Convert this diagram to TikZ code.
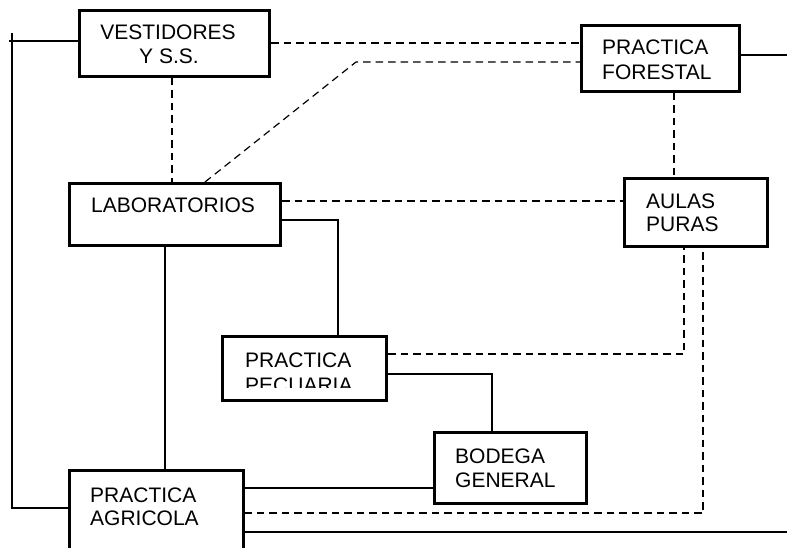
\documentclass[tikz,border=0pt]{standalone}
\usepackage{fontspec}
\setmainfont{Liberation Sans}
\usetikzlibrary{fit}
\begin{document}
\begin{tikzpicture}[x=1pt,y=-1pt,
  box/.style={draw,line width=2.8pt,inner sep=0pt,rectangle},
  txt/.style={inner sep=0pt,font=\fontsize{21}{24}\selectfont},
  conn/.style={line width=1.2pt},
  dconn/.style={line width=1.2pt,dash pattern=on 7.5pt off 5pt}]
\clip (0,0) rectangle (787,548);
\fill[white] (0,0) rectangle (787,548);
% boxes
\node[box,fit={(79.4,10.4) (269.6,76.6)}] (ves) {};
\node[box,fit={(581.4,25.4) (739.6,91.6)}] (for) {};
\node[box,fit={(69.4,183.4) (280.6,245.6)}] (lab) {};
\node[box,fit={(624.4,178.4) (767.6,246.6)}] (aul) {};
\node[box,fit={(222.4,336.4) (386.6,400.6)}] (pec) {};
\node[box,fit={(434.4,432.4) (586.6,503.6)}] (bod) {};
\node[box,fit={(69.4,470.4) (243.6,580)}] (agr) {};
% texts
\node[txt,anchor=base] (vest1) at (168,40) {VESTIDORES};
\node[txt,anchor=base] (vest2) at (169,64) {Y S.S.};
\node[txt,anchor=base west] (for1) at (602,55) {PRACTICA};
\node[txt,anchor=base west] (for2) at (602,80) {FORESTAL};
\node[txt,anchor=base west] (lab1) at (91,213) {LABORATORIOS};
\node[txt,anchor=base west] (aul1) at (646,208) {AULAS};
\node[txt,anchor=base west] (aul2) at (646,232) {PURAS};
\node[txt,anchor=base west] (pec1) at (245,367) {PRACTICA};
\begin{scope}
\clip (222,370) rectangle (386,387);
\node[txt,anchor=base west] (pec2) at (245,392) {PECUARIA};
\end{scope}
\node[txt,anchor=base west] (bod1) at (455,463) {BODEGA};
\node[txt,anchor=base west] (bod2) at (455,487) {GENERAL};
\node[txt,anchor=base west] (agr1) at (90,502) {PRACTICA};
\node[txt,anchor=base west] (agr2) at (90,525) {AGRICOLA};
% free ends
\coordinate (ltop) at (12,33);
\coordinate (lstub) at (9,41);
\coordinate (rfor) at (787,55);
\coordinate (rbot) at (787,532);
% connectors
\draw[conn] (ltop) -- (12,508) -- (agr.west |- 0,508);
\draw[conn] (lstub) -- (ves.west |- 0,41);
\draw[dconn] (ves.east |- 0,43) -- (for.west |- 0,43);
\draw[dconn] (lab.north -| 205,0) -- (356,62) -- (for.west |- 0,62);
\draw[dconn] (ves.south -| 172,0) -- (lab.north -| 172,0);
\draw[conn] (for.east |- 0,55) -- (rfor);
\draw[dconn] (for.south -| 674,0) -- (aul.north -| 674,0);
\draw[dconn] (lab.east |- 0,201) -- (aul.west |- 0,201);
\draw[conn] (lab.east |- 0,220) -- (338,220) -- (pec.north -| 338,0);
\draw[conn] (lab.south -| 165,0) -- (agr.north -| 165,0);
\draw[dconn] (pec.east |- 0,354) -- (684,354) -- (aul.south -| 684,0);
\draw[dconn] (aul.south -| 703,0) ++(0,4) -- (703,513) -- (agr.east |- 0,513);
\draw[conn] (pec.east |- 0,374) -- (492,374) -- (bod.north -| 492,0);
\draw[conn] (agr.east |- 0,488) -- (bod.west |- 0,488);
\draw[conn] (agr.east |- 0,532) -- (rbot);
\end{tikzpicture}
\end{document}
